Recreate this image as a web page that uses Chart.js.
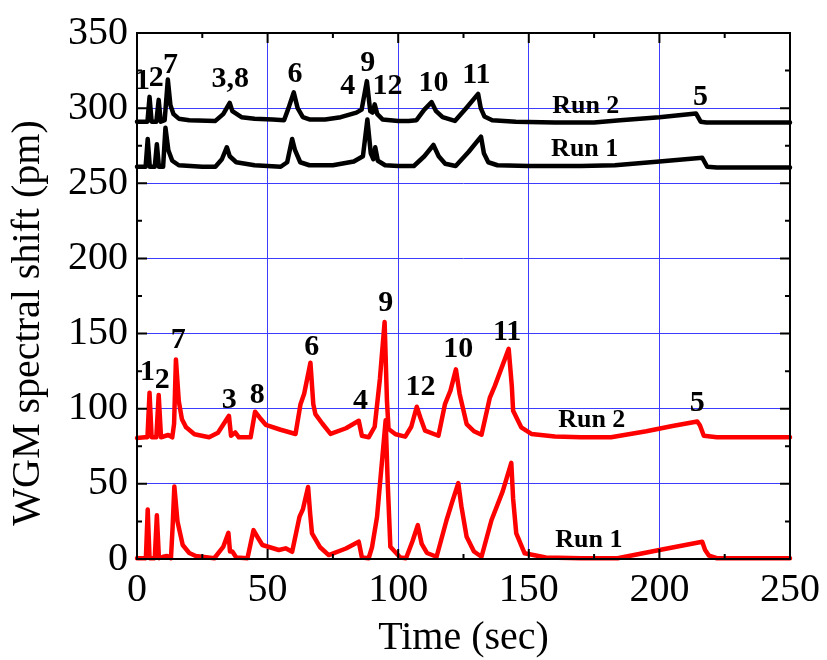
<!DOCTYPE html>
<html>
<head>
<meta charset="utf-8">
<script src="https://cdn.jsdelivr.net/npm/chart.js@4.4.1/dist/chart.umd.min.js"></script>
<style>
  body { margin: 0; background: #fff; }
  #wrap { width: 827px; height: 660px; }
</style>
</head>
<body>
<div id="wrap"><canvas id="mycanvas" width="827" height="660"></canvas></div>
<script>
// Run 1 / Run 2 traces, black (upper) and red (lower) sets
var timeBlack2 = [0, 4.0, 4.8, 5.6, 7.4, 8.3, 9.1, 10.6, 11.8, 12.8, 14, 16, 20, 30, 33, 35.5, 36.5, 40, 45, 52, 56.3, 58, 60, 61.5, 63.5, 66, 72, 78, 84, 86, 88, 89.3, 90.2, 91, 92, 94, 100, 104, 107, 110, 112.8, 114.5, 117, 121.7, 126, 130.6, 131.6, 133, 136, 145, 160, 175, 185, 200, 214, 215.8, 218, 250];
var shiftBlack2 = [291, 291, 307.5, 291, 291, 305.5, 291, 292, 319, 302, 296, 293, 292, 291.5, 296, 303.5, 298, 294, 293, 292.5, 292, 300, 310.5, 300, 294, 292.5, 292.5, 294, 297, 299, 318, 298, 297, 302.5, 296, 292.5, 291.5, 291.5, 292, 299, 304, 298, 294, 291.5, 300, 309.5, 300, 294.5, 292, 291, 290.5, 290.5, 292, 294, 296.5, 291, 290.5, 290.5];

var timeBlack1 = [0, 3.3, 4.1, 4.9, 6.8, 7.6, 8.4, 10, 10.9, 12, 13.5, 16, 25, 30, 32.5, 34.4, 35.5, 38, 45, 55, 57.5, 59.4, 60.5, 62.5, 66, 75, 83, 86.5, 88.2, 89.5, 90.5, 91.2, 92.2, 95, 100, 106, 110, 113.5, 115.5, 118, 122, 127, 131.7, 132.8, 134.5, 138, 150, 170, 183, 200, 216.4, 218.3, 222, 250];
var shiftBlack1 = [261, 261, 279.5, 261, 261, 276, 261, 261, 287, 272, 265, 262, 261, 261, 266, 274, 268, 264, 262, 261, 264, 279.5, 272, 264, 262, 262, 264.5, 268, 292.5, 270, 266, 274, 265, 262, 261.5, 261.5, 268, 275.5, 268, 263, 261.5, 271, 281, 270, 264, 262, 261.5, 261.5, 262, 264.5, 267, 261, 260.5, 260.5];

var timeRed2 = [0, 3, 4.0, 4.8, 5.6, 7.4, 8.3, 9.2, 11, 12, 13.5, 14.2, 14.9, 16, 17.2, 18.8, 22, 27.6, 31, 35.2, 36, 37.6, 39, 43.5, 45.2, 47, 49.3, 55, 60.7, 62.6, 64, 66.4, 67.5, 68.3, 71, 74.1, 80, 84.9, 86.1, 88.7, 91, 93, 94.8, 95.7, 96.3, 99, 102.7, 105, 107.1, 108.5, 110.3, 115.4, 117.9, 120, 122.1, 123.5, 126.2, 129, 131.9, 135.1, 137, 142.3, 143.5, 144, 147.1, 151, 160, 170, 181.5, 195, 205, 214.5, 215.5, 217, 222, 250];
var shiftRed2 = [80.5, 81, 81, 110.7, 81, 81, 109.2, 81, 82, 82.5, 81, 90, 132.8, 105, 93, 87.6, 83, 81, 84, 95.3, 82, 84.2, 81, 81, 98, 94, 89.3, 86, 83.2, 103, 110, 130.6, 103, 96.4, 90, 83.2, 87, 92, 82, 81, 88, 120, 157.7, 105, 86.5, 83, 81.4, 88, 101.3, 94, 85.4, 82, 103, 112, 126.2, 110, 89.8, 85, 82.7, 107.4, 115.2, 139.8, 115, 98.6, 87.6, 83.2, 81.5, 81, 81, 85, 88.5, 91.5, 89, 82, 81, 81];

var timeRed1 = [0, 3.4, 4.1, 4.8, 6.8, 7.6, 8.4, 10, 11.5, 13, 13.6, 14.3, 15.5, 17.5, 20, 22.5, 29.6, 33, 35, 35.6, 36.5, 38, 42.3, 44.6, 46, 48, 54.3, 56.9, 59.4, 62.2, 63.5, 65.5, 66.3, 67, 70, 73.4, 80, 84.9, 86.1, 88.7, 90, 91.9, 95.2, 96, 97, 100.8, 103, 105.5, 107.5, 109, 111, 114.7, 118.5, 120.5, 123, 124.2, 126.2, 129, 131.9, 135.7, 140, 143.3, 144, 145.2, 148.4, 156.5, 170, 184, 200, 216.4, 217.5, 219, 222, 250];
var shiftRed1 = [0.5, 0.5, 32.9, 0.5, 0.5, 29.1, 0.5, 1.5, 2, 0.5, 20, 48.3, 25, 9.3, 4, 2, 0.5, 8, 17.4, 5, 5, 1, 0.5, 19.2, 15, 9.3, 6, 7.1, 4.8, 28, 33, 47.9, 30, 17, 8, 2.6, 7, 11.5, 1, 0.5, 8, 28, 92.4, 50, 8.1, 1, 0.5, 12, 22.5, 10, 4, 1.5, 25.8, 37, 50.5, 35, 14.8, 5, 1.5, 25.8, 45, 64, 40, 17, 3.8, 1, 0.5, 0.5, 6, 11.5, 6, 2.2, 0.5, 0.5];

// peak numbers written over each trace pair
var blackTags = ['1', '2', '7', '3,8', '6', '4', '9', '12', '10', '11', '5'];
var blackTagT = [2.1, 7.4, 12.8, 35.7, 60.5, 80.7, 88.3, 95.9, 113.5, 129.9, 215.7];
var blackTagV = [317.7, 319.7, 328.3, 319, 322.3, 314.4, 329.6, 314.4, 316.3, 321.6, 307.1];

var redTags = ['1', '2', '7', '3', '8', '6', '4', '9', '12', '10', '11', '5'];
var redTagT = [4, 9.7, 15.8, 35.3, 46, 66.9, 85.6, 95.2, 108.5, 123, 141.7, 214.5];
var redTagV = [124.4, 119.1, 145.6, 105.9, 109.2, 141, 105.2, 170.1, 114.5, 139.6, 150.9, 103.9];

var runTags = ['Run 2', 'Run 1', 'Run 2', 'Run 1'];
var runTagT = [171.8, 171.4, 174.1, 173];
var runTagV = [301.1, 272.7, 92, 12.6];

var SERIF = '"Liberation Serif", "Times New Roman", serif';

function pts(t, v) {
	return t.map(function (x, i) { return { x: x, y: v[i] }; });
}

function trace(label, t, v, color) {
	return {
		label: label,
		data: pts(t, v),
		borderColor: color,
		borderWidth: 4.5,
		pointRadius: 0,
		tension: 0,
		borderJoinStyle: 'round',
		borderCapStyle: 'round',
		clip: 4
	};
}

// frame on all four sides with inward ticks every 25
var framePlugin = {
	id: 'frame',
	afterDraw: function (chart) {
		var ctx = chart.ctx, a = chart.chartArea;
		var xs = chart.scales.x, ys = chart.scales.y;
		ctx.save();
		ctx.strokeStyle = '#000';
		ctx.lineWidth = 2;
		ctx.strokeRect(a.left, a.top, a.right - a.left, a.bottom - a.top);
		ctx.beginPath();
		var v, p, len;
		for (v = 0; v <= 250; v += 25) {
			p = xs.getPixelForValue(v);
			len = v % 50 ? 5 : 10;
			ctx.moveTo(p, a.bottom); ctx.lineTo(p, a.bottom - len);
			ctx.moveTo(p, a.top); ctx.lineTo(p, a.top + len);
		}
		for (v = 0; v <= 350; v += 25) {
			p = ys.getPixelForValue(v);
			len = v % 50 ? 5 : 10;
			ctx.moveTo(a.left, p); ctx.lineTo(a.left + len, p);
			ctx.moveTo(a.right, p); ctx.lineTo(a.right - len, p);
		}
		ctx.stroke();

		// y axis title
		ctx.fillStyle = '#000';
		ctx.font = '40px ' + SERIF;
		ctx.textAlign = 'center';
		ctx.textBaseline = 'middle';
		ctx.translate(28, 323);
		ctx.rotate(-Math.PI / 2);
		ctx.fillText('WGM spectral shift (pm)', 0, 0);
		ctx.restore();
	},
	afterDatasetsDraw: function (chart) {
		var ctx = chart.ctx;
		var xs = chart.scales.x, ys = chart.scales.y;
		ctx.save();
		ctx.fillStyle = '#000';
		ctx.textAlign = 'center';
		ctx.textBaseline = 'middle';
		ctx.font = 'bold 30px ' + SERIF;
		var i;
		for (i = 0; i < blackTags.length; i++) {
			ctx.fillText(blackTags[i], xs.getPixelForValue(blackTagT[i]), ys.getPixelForValue(blackTagV[i]));
		}
		for (i = 0; i < redTags.length; i++) {
			ctx.fillText(redTags[i], xs.getPixelForValue(redTagT[i]), ys.getPixelForValue(redTagV[i]));
		}
		ctx.font = 'bold 26px ' + SERIF;
		for (i = 0; i < runTags.length; i++) {
			ctx.fillText(runTags[i], xs.getPixelForValue(runTagT[i]), ys.getPixelForValue(runTagV[i]));
		}
		ctx.restore();
	}
};

var ctx = document.getElementById('mycanvas');
var gridBlue = '#3c3cff';

var chart = new Chart(ctx, {
	type: 'line',
	data: {
		datasets: [
			trace('Run 2 (black)', timeBlack2, shiftBlack2, '#000000'),
			trace('Run 1 (black)', timeBlack1, shiftBlack1, '#000000'),
			trace('Run 2 (red)', timeRed2, shiftRed2, '#ff0000'),
			trace('Run 1 (red)', timeRed1, shiftRed1, '#ff0000')
		]
	},
	options: {
		responsive: false,
		animation: false,
		layout: { padding: { left: 0, top: 30, right: 34, bottom: 0 } },
		plugins: { legend: { display: false }, tooltip: { enabled: false } },
		scales: {
			x: {
				type: 'linear',
				min: 0,
				max: 250,
				ticks: { stepSize: 50, padding: 7, color: '#000', font: { family: SERIF, size: 40 } },
				grid: { color: gridBlue, lineWidth: 1, drawTicks: false },
				border: { display: false },
				title: { display: true, text: 'Time (sec)', color: '#000', font: { family: SERIF, size: 40, lineHeight: 1 }, padding: { top: 0, bottom: 2 } },
				afterFit: function (s) { s.height = 101; }
			},
			y: {
				min: 0,
				max: 350,
				ticks: { stepSize: 50, padding: 9, color: '#000', font: { family: SERIF, size: 40 } },
				grid: { color: gridBlue, lineWidth: 1, drawTicks: false },
				border: { display: false },
				afterFit: function (s) { s.width = 137; }
			}
		}
	},
	plugins: [framePlugin]
});
</script>
</body>
</html>
